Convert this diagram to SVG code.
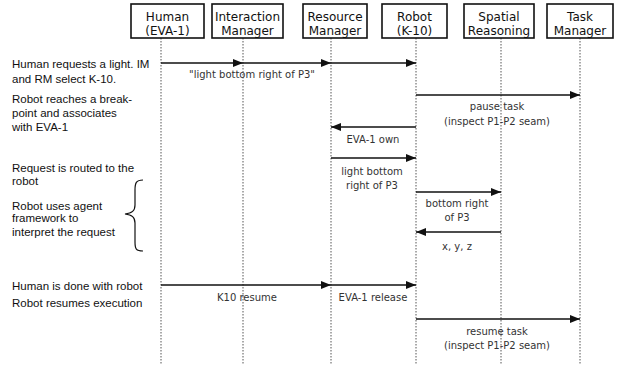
<svg xmlns="http://www.w3.org/2000/svg" width="617" height="365" viewBox="0 0 617 365">
<style>
.box{fill:#fff;stroke:#111;stroke-width:1.6}
.bt{font-family:"DejaVu Sans",sans-serif;font-size:12px;fill:#111;text-anchor:middle}
.life{stroke:#555;stroke-width:1;stroke-dasharray:1.5 1.5}
.msg{stroke:#111;stroke-width:1.3;fill:none;marker-end:url(#ah)}
.ml{font-family:"DejaVu Sans",sans-serif;font-size:10px;fill:#333;text-anchor:middle}
.note{font-family:"Liberation Sans",Arial,sans-serif;font-size:11.5px;fill:#111}
</style>
<defs>
<marker id="ah" viewBox="0 0 10 8" refX="10" refY="4" markerWidth="10" markerHeight="8" markerUnits="userSpaceOnUse" orient="auto">
<path d="M0,0 L10,4 L0,8 z" fill="#111"/>
</marker>
</defs>
<rect width="617" height="365" fill="#fff"/>
<g id="human"><line class="life" x1="161" y1="38" x2="161" y2="365"/><rect class="box" x="131" y="4" width="73" height="34"/><text class="bt" x="167.5" y="21">Human</text><text class="bt" x="167.5" y="35">(EVA-1)</text></g>
<g id="interaction-manager"><line class="life" x1="243" y1="38" x2="243" y2="365"/><rect class="box" x="212" y="4" width="71" height="34"/><text class="bt" x="247.5" y="21">Interaction</text><text class="bt" x="247.5" y="35">Manager</text></g>
<g id="resource-manager"><line class="life" x1="331" y1="38" x2="331" y2="365"/><rect class="box" x="303" y="4" width="64" height="34"/><text class="bt" x="335" y="21">Resource</text><text class="bt" x="335" y="35">Manager</text></g>
<g id="robot"><line class="life" x1="416" y1="38" x2="416" y2="365"/><rect class="box" x="382" y="4" width="65" height="34"/><text class="bt" x="414.5" y="21">Robot</text><text class="bt" x="414.5" y="35">(K-10)</text></g>
<g id="spatial-reasoning"><line class="life" x1="501" y1="38" x2="501" y2="365"/><rect class="box" x="464" y="4" width="70" height="34"/><text class="bt" x="499" y="21">Spatial</text><text class="bt" x="499" y="35">Reasoning</text></g>
<g id="task-manager"><line class="life" x1="580" y1="38" x2="580" y2="365"/><rect class="box" x="547" y="4" width="66" height="34"/><text class="bt" x="580" y="21">Task</text><text class="bt" x="580" y="35">Manager</text></g>
<g id="connectors">
<line class="msg" x1="161" y1="63" x2="243" y2="63"/>
<line class="msg" x1="243" y1="63" x2="331" y2="63"/>
<line class="msg" x1="331" y1="63" x2="416" y2="63"/>
<line class="msg" x1="416" y1="95" x2="580" y2="95"/>
<line class="msg" x1="416" y1="127" x2="331" y2="127"/>
<line class="msg" x1="331" y1="158" x2="416" y2="158"/>
<line class="msg" x1="416" y1="192" x2="501" y2="192"/>
<line class="msg" x1="501" y1="232" x2="416" y2="232"/>
<line class="msg" x1="161" y1="285" x2="331" y2="285"/>
<line class="msg" x1="331" y1="285" x2="416" y2="285"/>
<line class="msg" x1="416" y1="319" x2="580" y2="319"/>
<text class="ml" x="252" y="78">"light bottom right of P3"</text>
<text class="ml" x="497" y="110">pause task</text>
<text class="ml" x="497" y="125">(inspect P1-P2 seam)</text>
<text class="ml" x="373" y="143">EVA-1 own</text>
<text class="ml" x="372" y="175">light bottom</text>
<text class="ml" x="372" y="189">right of P3</text>
<text class="ml" x="457" y="207">bottom right</text>
<text class="ml" x="457" y="221">of P3</text>
<text class="ml" x="457" y="250">x, y, z</text>
<text class="ml" x="247" y="301">K10 resume</text>
<text class="ml" x="373" y="301">EVA-1 release</text>
<text class="ml" x="497" y="335">resume task</text>
<text class="ml" x="497" y="349">(inspect P1-P2 seam)</text>
</g>
<g id="notes">
<text class="note" x="12" y="68">Human requests a light. IM</text>
<text class="note" x="12" y="83">and RM select K-10.</text>
<text class="note" x="12" y="103">Robot reaches a break-</text>
<text class="note" x="12" y="117">point and associates</text>
<text class="note" x="12" y="131">with EVA-1</text>
<text class="note" x="12" y="172">Request is routed to the</text>
<text class="note" x="12" y="185">robot</text>
<text class="note" x="12" y="210">Robot uses agent</text>
<text class="note" x="12" y="222">framework to</text>
<text class="note" x="12" y="236">interpret the request</text>
<text class="note" x="12" y="290">Human is done with robot</text>
<text class="note" x="12" y="307">Robot resumes execution</text>
<path d="M143,180 C136,180 135,183 135,190 L135,205 C135,211 132,213 125,214 C132,215 135,217 135,223 L135,242 C135,249 136,251 143,251" fill="none" stroke="#111" stroke-width="1.2"/>
</g>
</svg>
